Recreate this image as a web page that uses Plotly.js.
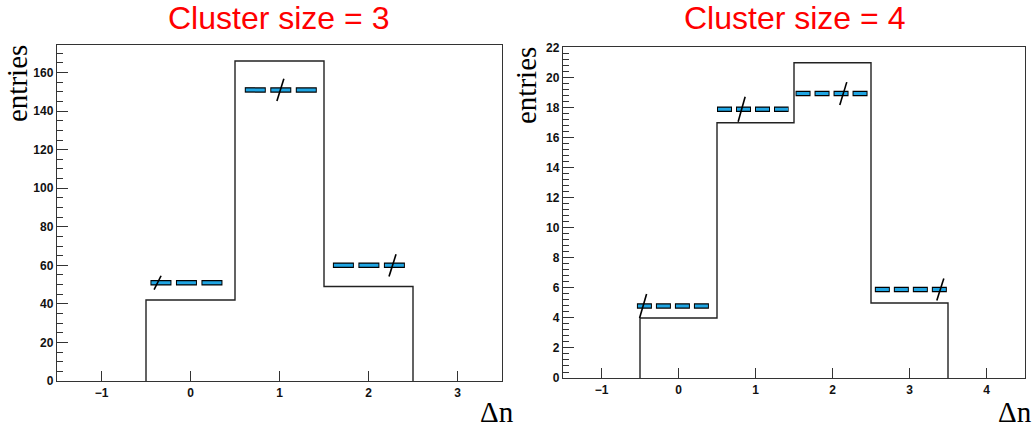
<!DOCTYPE html>
<html>
<head>
<meta charset="utf-8">
<script src="https://cdn.plot.ly/plotly-3.0.1.min.js"></script>
<style>html,body{margin:0;padding:0;background:#fff;}#chart{width:1036px;height:433px;}</style>
</head>
<body>
<div id="chart"></div>
<script>
// ---------- data ----------
// Panel 1: cluster size = 3
const binEdges3 = [-0.5, 0.5, 1.5, 2.5];
const counts3 = [42, 166, 49];
const refY3 = [51, 151, 60];
const refStart3 = [-0.45, 0.61, 1.60];
const refEnd3 = [0.37, 1.42, 2.42];
const slashX3 = [-0.37, 1.01, 2.27];
const slashHalf3 = [3.6, 5.8, 5.8];

// Panel 2: cluster size = 4
const binEdges4 = [-0.5, 0.5, 1.5, 2.5, 3.5];
const counts4 = [4, 17, 21, 5];
const refY4 = [4.8, 17.9, 18.95, 5.9];
const refStart4 = [-0.54, 0.50, 1.52, 2.55];
const refEnd4 = [0.40, 1.43, 2.47, 3.49];
const slashX4 = [-0.46, 0.82, 2.14, 3.40];
const slashHalf4 = [0.8, 0.83, 0.76, 0.73];

const titles = ["Cluster size = 3", "Cluster size = 4"];
const yLabel = "entries";
const xLabel = "Δn";

// ---------- geometry ----------
const W = 1036, H = 433;
const dom1x = [57 / W, 502 / W];
const dom2x = [563 / W, 1025 / W];
const dom1y = [(H - 381) / H, (H - 45) / H];
const dom2y = [(H - 378) / H, (H - 47) / H];
const xr1 = [-1.5, 3.5], xr2 = [-1.5, 4.5];
const yr1 = [0, 174.3], yr2 = [0, 22.05];

const BLUE = '#1fa5e3';

function stepXY(edges, counts) {
  const x = [edges[0]], y = [0];
  counts.forEach((c, i) => { x.push(edges[i], edges[i + 1]); y.push(c, c); });
  x.push(edges[edges.length - 1]); y.push(0);
  return {x, y};
}
function segs(starts, ends, ys, shift) {
  const x = [], y = [];
  starts.forEach((s, i) => { x.push(s + shift, ends[i], null); y.push(ys[i], ys[i], null); });
  return {x, y};
}
function slashes(sx, ys, half, dx) {
  const x = [], y = [];
  sx.forEach((s, i) => { x.push(s - dx, s + dx, null); y.push(ys[i] - half[i], ys[i] + half[i], null); });
  return {x, y};
}

function panelTraces(edges, counts, ry, rs, re, sx, sh, xa, ya, pxPerUnit, dashB, dashC) {
  const st = stepXY(edges, counts);
  const outline = segs(rs, re, ry, 0);
  const inner = segs(rs, re, ry, 1 / pxPerUnit);
  const sl = slashes(sx, ry, sh, 3.5 / pxPerUnit);
  return [
    {x: st.x, y: st.y, xaxis: xa, yaxis: ya, mode: 'lines', line: {color: '#222', width: 1.4}, hoverinfo: 'skip'},
    {x: outline.x, y: outline.y, xaxis: xa, yaxis: ya, mode: 'lines', line: {color: '#000', width: 5.5, dash: dashB}, hoverinfo: 'skip'},
    {x: inner.x, y: inner.y, xaxis: xa, yaxis: ya, mode: 'lines', line: {color: BLUE, width: 3, dash: dashC}, hoverinfo: 'skip'},
    {x: sl.x, y: sl.y, xaxis: xa, yaxis: ya, mode: 'lines', line: {color: '#000', width: 1.6}, hoverinfo: 'skip'}
  ];
}

const px1 = (dom1x[1] - dom1x[0]) * W / (xr1[1] - xr1[0]);
const px2 = (dom2x[1] - dom2x[0]) * W / (xr2[1] - xr2[0]);

const data = [].concat(
  panelTraces(binEdges3, counts3, refY3, refStart3, refEnd3, slashX3, slashHalf3, 'x', 'y', px1, '21px,4.5px', '19px,6.5px'),
  panelTraces(binEdges4, counts4, refY4, refStart4, refEnd4, slashX4, slashHalf4, 'x2', 'y2', px2, '15px,4px', '13px,6px')
);

const tickFont = {family: 'Liberation Sans, Arial, sans-serif', size: 12, color: '#111', weight: 'bold'};
function xAxis(dom, range, anchor) {
  return {domain: dom, range: range, anchor: anchor, dtick: 1, tick0: 0, ticks: 'inside', ticklen: 10, tickwidth: 1,
    tickcolor: '#333', showline: true, linecolor: '#333', linewidth: 1.2, mirror: true, showgrid: false, zeroline: false,
    tickfont: tickFont, fixedrange: true};
}
function yAxis(dom, range, anchor, dtick, minorDtick) {
  return {domain: dom, range: range, anchor: anchor, dtick: dtick, tick0: 0, ticks: 'inside', ticklen: 11, tickwidth: 1,
    tickcolor: '#333', showline: true, linecolor: '#333', linewidth: 1.2, mirror: true, showgrid: false, zeroline: false,
    tickfont: tickFont, fixedrange: true,
    minor: {dtick: minorDtick, tick0: 0, ticks: 'inside', ticklen: 6, tickcolor: '#333', showgrid: false}};
}

const titleFont = {family: 'Liberation Sans, Arial, sans-serif', size: 32, color: '#ff0000'};
const serif = {family: 'Liberation Serif, Times New Roman, serif', size: 29, color: '#000'};

const layout = {
  width: W, height: H,
  margin: {l: 0, r: 0, t: 0, b: 0},
  paper_bgcolor: '#fff', plot_bgcolor: '#fff',
  showlegend: false,
  xaxis: xAxis(dom1x, xr1, 'y'),
  yaxis: yAxis(dom1y, yr1, 'x', 20, 5),
  xaxis2: xAxis(dom2x, xr2, 'y2'),
  yaxis2: yAxis(dom2y, yr2, 'x2', 2, 0.4),
  annotations: [
    {text: titles[0], xref: 'paper', yref: 'paper', x: 278 / W, y: (H - 18) / H, xanchor: 'center', yanchor: 'middle', showarrow: false, font: titleFont},
    {text: titles[1], xref: 'paper', yref: 'paper', x: 794 / W, y: (H - 18) / H, xanchor: 'center', yanchor: 'middle', showarrow: false, font: titleFont},
    {text: yLabel, xref: 'paper', yref: 'paper', x: 17 / W, y: (H - 84) / H, xanchor: 'center', yanchor: 'middle', textangle: -90, showarrow: false, font: serif},
    {text: yLabel, xref: 'paper', yref: 'paper', x: 526 / W, y: (H - 86) / H, xanchor: 'center', yanchor: 'middle', textangle: -90, showarrow: false, font: serif},
    {text: xLabel, xref: 'paper', yref: 'paper', x: 497 / W, y: (H - 412) / H, xanchor: 'center', yanchor: 'middle', showarrow: false, font: serif},
    {text: xLabel, xref: 'paper', yref: 'paper', x: 1015 / W, y: (H - 412) / H, xanchor: 'center', yanchor: 'middle', showarrow: false, font: serif}
  ]
};

Plotly.newPlot('chart', data, layout, {staticPlot: true, displayModeBar: false});
</script>
</body>
</html>
